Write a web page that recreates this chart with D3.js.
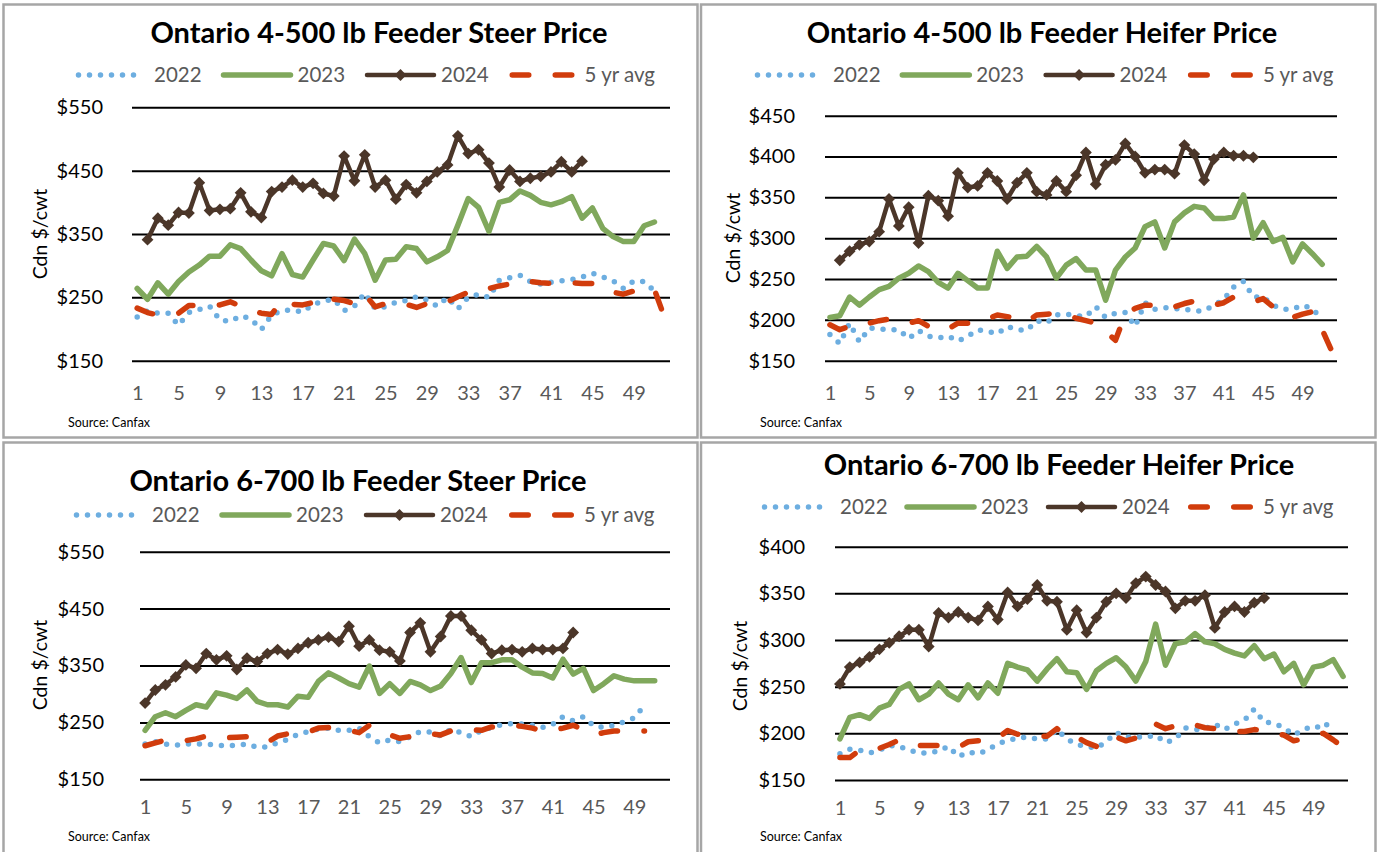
<!DOCTYPE html>
<html>
<head>
<meta charset="utf-8">
<script src="https://cdn.jsdelivr.net/npm/d3@7"></script>
<style>
  body { margin: 0; background: #fff; }
  svg { display: block; font-family: Lato, "Open Sans", sans-serif; }
</style>
</head>
<body>
<svg id="chart" width="1378" height="852"></svg>
<script>
// categories
const weeks = d3.range(1, 53);
const weekTicks = d3.range(1, 50, 4);
const seriesNames = ['2022', '2023', '2024', '5 yr avg'];
const yAxisTitle = 'Cdn $/cwt';
const sourceNote = 'Source:  Canfax';

// Ontario 4-500 lb feeder steers
const steer45_2022 = [219, 229, 225, 225, 206, 226, 231, 236, 214, 212, 221, 216, 199, 222, 229, 230, 227, 239, 244, 247,
  229, 236, 257, 232, 235, 242, 245, 251, 246, 236, 250, 232, 250, 255, 250, 277, 281, 285, 275, 271,
  274, 276, 278, 282, 288, 282, 276, 264, 276, 275, 260];
const steer45_2023 = [264, 247, 273, 255, 275, 290, 301, 315, 315, 333, 327, 309, 292, 284, 319, 286, 282, 309, 335, 331,
  308, 342, 319, 277, 309, 310, 330, 327, 306, 314, 324, 364, 406, 392, 354, 400, 404, 418, 411, 400,
  396, 401, 409, 375, 391, 359, 346, 338, 338, 363, 369];
const steer45_2024 = [null, 341, 375, 364, 384, 383, 431, 387, 389, 390, 415, 385, 376, 417, 424, 435, 424, 430, 414, 410,
  473, 434, 475, 424, 435, 405, 428, 415, 433, 448, 459, 505, 477, 483, 462, 424, 451, 433, 438, 441,
  448, 464, 448, 465];
const steer45_avg = [233, 226, 222, 223, 225, 237, 237, 236, 238, 243, 236, 229, 225, 223, 246, 239, 238, 242, 253, 247,
  245, 240, 255, 235, 240, 240, 239, 234, 240, 245, 243, 251, 258, 265, 264, 268, 271, 277, 275, 273,
  272, 272, 273, 272, 272, 264, 258, 255, 260, 264, 262, 217];

// Ontario 4-500 lb feeder heifers
const heifer45_2022 = [182, 171, 196, 173, 190, 189, 188, 188, 177, 187, 180, 178, 180, 174, 180, 188, 186, 183, 192, 188,
  187, 199, 196, 206, 207, 205, 204, 216, 203, 208, 209, 192, 221, 213, 215, 214, 213, 211, 211, 218,
  225, 240, 247, 228, 228, 218, 213, 213, 218, 214, 200];
const heifer45_2023 = [203, 205, 228, 218, 228, 237, 241, 251, 257, 266, 259, 246, 239, 257, 248, 239, 239, 284, 263, 277,
  278, 290, 277, 251, 267, 275, 261, 261, 224, 261, 277, 288, 314, 320, 288, 320, 331, 339, 337, 324,
  324, 326, 353, 300, 319, 296, 301, 271, 293, 281, 268];
const heifer45_2024 = [null, 273, 284, 292, 296, 308, 348, 315, 338, 294, 352, 346, 327, 380, 362, 364, 380, 370, 348, 368,
  380, 357, 353, 370, 357, 377, 405, 366, 390, 396, 416, 400, 380, 384, 384, 379, 414, 403, 371, 397,
  405, 401, 401, 399];
const heifer45_avg = [194, 188, 192, 191, 196, 199, 201, 197, 196, 199, 192, 187, 189, 196, 196, 196, 201, 206, 204, 202,
  198, 206, 207, 208, 207, 202, 199, 196, 186, 175, 207, 214, 218, 218, 214, 216, 220, 223, 221, 218,
  221, 228, 226, 222, 226, 216, 208, 203, 207, 210, 188, 161];

// Ontario 6-700 lb feeder steers
const steer67_2022 = [212, 216, 212, 210, 212, 212, 212, 210, 209, 210, 212, 206, 207, 214, 220, 229, 234, 238, 240, 236,
  236, 240, 225, 214, 219, 216, 225, 234, 233, 226, 238, 232, 225, 236, 241, 246, 248, 247, 245, 241,
  247, 260, 253, 260, 244, 241, 245, 251, 258, 280];
const steer67_2023 = [236, 260, 267, 260, 271, 281, 277, 302, 298, 292, 307, 287, 281, 281, 277, 296, 294, 322, 337, 328,
  318, 312, 349, 301, 318, 301, 322, 316, 306, 314, 336, 364, 320, 355, 355, 360, 360, 347, 337, 336,
  328, 361, 335, 345, 306, 318, 332, 326, 323, 323, 323];
const steer67_2024 = [284, 307, 316, 330, 351, 345, 371, 360, 367, 343, 363, 357, 371, 378, 370, 380, 390, 395, 400, 392,
  419, 384, 395, 377, 374, 358, 408, 425, 374, 401, 437, 437, 412, 395, 371, 377, 378, 374, 380, 378,
  378, 380, 408];
const steer67_avg = [209, 214, 219, 219, 218, 221, 226, 224, 223, 224, 225, 220, 215, 226, 230, 230, 233, 240, 241, 238,
  236, 232, 245, 235, 228, 222, 225, 231, 230, 228, 235, 239, 237, 236, 242, 243, 245, 243, 240, 235,
  236, 240, 245, 237, 228, 232, 235, 235, 235, 235];

// Ontario 6-700 lb feeder heifers
const heifer67_2022 = [178, 183, 182, 179, 182, 187, 186, 182, 179, 179, 181, 186, 175, 180, 178, 182, 189, 192, 195, 196,
  194, 194, 204, 194, 188, 186, 184, 191, 201, 196, 196, 196, 198, 190, 194, 206, 204, 205, 210, 204,
  210, 214, 226, 212, 211, 206, 198, 204, 208, 205, 217];
const heifer67_2023 = [194, 217, 220, 216, 227, 231, 247, 253, 236, 242, 254, 242, 236, 252, 238, 254, 243, 275, 271, 268,
  256, 269, 280, 266, 265, 247, 267, 275, 281, 271, 256, 277, 317, 273, 296, 298, 307, 298, 296, 290,
  286, 283, 294, 280, 285, 266, 275, 252, 271, 273, 279, 261];
const heifer67_2024 = [253, 271, 276, 282, 290, 297, 304, 311, 311, 293, 329, 324, 330, 324, 321, 336, 322, 351, 336, 344,
  359, 342, 341, 311, 332, 308, 324, 341, 350, 345, 361, 368, 359, 352, 334, 342, 342, 348, 313, 330,
  336, 330, 340, 345];
const heifer67_avg = [174, 174, 182, 182, 184, 188, 193, 188, 187, 187, 187, 186, 185, 191, 192, 192, 195, 203, 199, 197,
  197, 197, 205, 197, 196, 190, 186, 196, 196, 192, 195, 203, 210, 205, 208, 211, 209, 206, 205, 203,
  202, 202, 204, 203, 201, 198, 192, 194, 197, 200, 193, 185];

const colors = ['#6daee0', '#80a85c', '#4b3629', '#d13c0c'];
const font = 'Lato, "Open Sans", sans-serif';

// layout for each of the four chart boxes
const panels = [
  { title: 'Ontario 4-500 lb Feeder Steer Price', data: [steer45_2022, steer45_2023, steer45_2024, steer45_avg],
    yDomain: [150, 550], yStep: 100, box: [3.5, 4.5, 694, 433], plot: [132, 670, 107.3, 360.7],
    titleX: 379, titleY: 43, legendX: 78, legendY: 75, legendGap: 143.5, yLabelEnd: 103,
    yTitleX: 40, yTitleY: 234, xPad: 25, sourceX: 68, sourceY: 427 },
  { title: 'Ontario 4-500 lb Feeder Heifer Price', data: [heifer45_2022, heifer45_2023, heifer45_2024, heifer45_avg],
    yDomain: [150, 450], yStep: 50, box: [701, 4.5, 674.5, 433], plot: [825, 1337, 115.7, 360.7],
    titleX: 1042, titleY: 43, legendX: 757, legendY: 75, legendGap: 143.3, yLabelEnd: 795,
    yTitleX: 733, yTitleY: 238, xPad: 25, sourceX: 760, sourceY: 427 },
  { title: 'Ontario 6-700 lb Feeder Steer Price', data: [steer67_2022, steer67_2023, steer67_2024, steer67_avg],
    yDomain: [150, 550], yStep: 100, box: [3.5, 442.5, 694, 420], plot: [140, 670, 551.7, 779.3],
    titleX: 358, titleY: 491, legendX: 76, legendY: 515, legendGap: 144, yLabelEnd: 104,
    yTitleX: 40, yTitleY: 665, xPad: 21, sourceX: 68, sourceY: 841 },
  { title: 'Ontario 6-700 lb Feeder Heifer Price', data: [heifer67_2022, heifer67_2023, heifer67_2024, heifer67_avg],
    yDomain: [150, 400], yStep: 50, box: [701, 442.5, 674.5, 420], plot: [835, 1348, 546.7, 780],
    titleX: 1059, titleY: 475, legendX: 764, legendY: 507, legendGap: 141, yLabelEnd: 805,
    yTitleX: 740, yTitleY: 666, xPad: 21, sourceX: 760, sourceY: 841 }
];

const svg = d3.select('#chart');

function styleSeries(sel, i) {
  sel.attr('fill', 'none')
    .attr('stroke', colors[i])
    .attr('stroke-linejoin', 'round')
    .attr('stroke-linecap', 'round');
  if (i === 0) sel.attr('stroke-width', 5.5).attr('stroke-dasharray', '0,11');
  if (i === 1) sel.attr('stroke-width', 5.5);
  if (i === 2) sel.attr('stroke-width', 4.5);
  if (i === 3) sel.attr('stroke-width', 5.5).attr('stroke-dasharray', '16.5,26.5');
  return sel;
}

const diamond = d3.symbol().type(d3.symbolSquare).size(70);

function drawPanel(p) {
  const g = svg.append('g');

  g.append('rect')
    .attr('x', p.box[0]).attr('y', p.box[1])
    .attr('width', p.box[2]).attr('height', p.box[3])
    .attr('fill', 'none').attr('stroke', '#a6a6a6').attr('stroke-width', 2.5);

  const x = d3.scalePoint().domain(weeks).range([p.plot[0], p.plot[1]]).padding(0.5);
  const y = d3.scaleLinear().domain(p.yDomain).range([p.plot[3], p.plot[2]]);

  // y axis + gridlines
  const yAxis = d3.axisLeft(y)
    .tickValues(d3.range(p.yDomain[0], p.yDomain[1] + 1, p.yStep))
    .tickSize(-(p.plot[1] - p.plot[0]))
    .tickPadding(p.plot[0] - p.yLabelEnd)
    .tickFormat(d => '$' + d);
  const yg = g.append('g').attr('transform', `translate(${p.plot[0]},0)`).call(yAxis);
  yg.select('.domain').remove();
  yg.selectAll('.tick line').attr('stroke', '#000').attr('stroke-width', 2);
  yg.selectAll('.tick text').attr('fill', '#000')
    .style('font-size', '20px').style('font-family', font);

  // x axis labels
  const xAxis = d3.axisBottom(x).tickValues(weekTicks).tickSize(0).tickPadding(p.xPad);
  const xg = g.append('g').attr('transform', `translate(0,${y(p.yDomain[0])})`).call(xAxis);
  xg.select('.domain').remove();
  xg.selectAll('.tick text').attr('fill', '#595959')
    .style('font-size', '20px').style('font-family', font);

  // series
  p.data.forEach((vals, i) => {
    const line = d3.line()
      .defined(d => d != null)
      .x((d, k) => x(weeks[k]))
      .y(d => y(d));
    styleSeries(g.append('path').datum(vals).attr('d', line), i);
    if (i === 2) {
      g.append('g').selectAll('path')
        .data(vals.map((v, k) => [weeks[k], v]).filter(d => d[1] != null))
        .join('path')
        .attr('d', diamond)
        .attr('transform', d => `translate(${x(d[0])},${y(d[1])}) rotate(45)`)
        .attr('fill', colors[2]);
    }
  });

  // title
  g.append('text')
    .attr('x', p.titleX).attr('y', p.titleY)
    .attr('text-anchor', 'middle')
    .style('font-size', '29px').style('font-weight', 700).style('font-family', font)
    .attr('fill', '#000')
    .text(p.title);

  // legend
  seriesNames.forEach((name, i) => {
    const sx = p.legendX + i * p.legendGap;
    const lg = g.append('g');
    if (i === 0) {
      styleSeries(lg.append('line'), i).attr('x1', sx + 0.5).attr('x2', sx + 64).attr('y1', p.legendY).attr('y2', p.legendY);
    } else if (i === 3) {
      styleSeries(lg.append('line'), i).attr('x1', sx + 3.75).attr('x2', sx + 63.5).attr('y1', p.legendY).attr('y2', p.legendY);
    } else {
      styleSeries(lg.append('line'), i).attr('x1', sx + 2).attr('x2', sx + 69).attr('y1', p.legendY).attr('y2', p.legendY);
    }
    if (i === 2) {
      lg.append('path').attr('d', diamond)
        .attr('transform', `translate(${sx + 35.5},${p.legendY}) rotate(45)`)
        .attr('fill', colors[2]);
    }
    lg.append('text')
      .attr('x', sx + 76).attr('y', p.legendY).attr('dy', '0.36em')
      .style('font-size', '20.5px').style('font-family', font)
      .attr('fill', '#595959')
      .text(name);
  });

  // y axis title
  g.append('text')
    .attr('transform', `translate(${p.yTitleX},${p.yTitleY}) rotate(-90)`)
    .attr('text-anchor', 'middle').attr('dy', '0.36em')
    .style('font-size', '19.5px').style('font-family', font)
    .attr('fill', '#000')
    .text(yAxisTitle);

  // source note
  g.append('text')
    .attr('x', p.sourceX).attr('y', p.sourceY)
    .style('font-size', '12.5px').style('font-family', font)
    .attr('fill', '#000')
    .text(sourceNote);
}

panels.forEach(drawPanel);
</script>
</body>
</html>
